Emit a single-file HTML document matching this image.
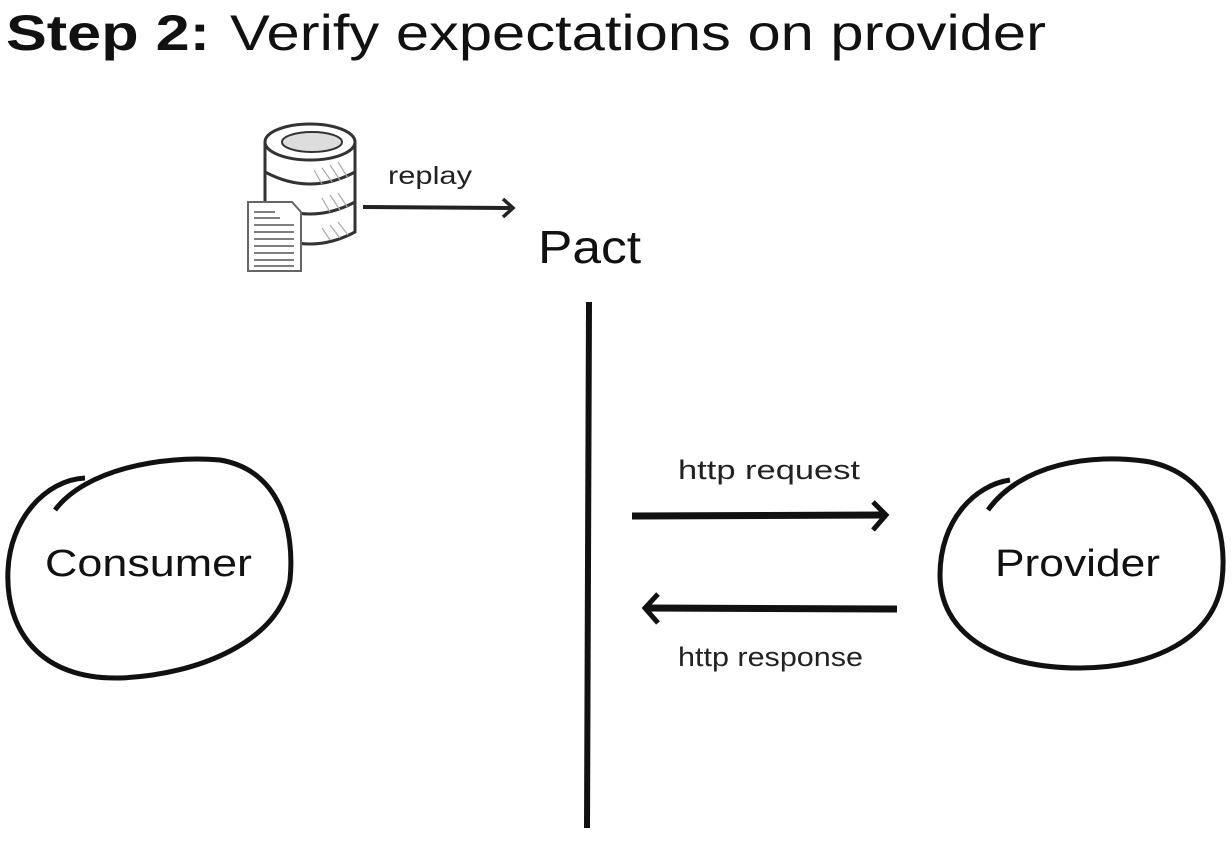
<!DOCTYPE html>
<html><head><style>
html,body{margin:0;padding:0;background:#fff;width:1232px;height:842px;overflow:hidden}
</style></head><body>
<svg width="1232" height="842" viewBox="0 0 1232 842" xmlns="http://www.w3.org/2000/svg" font-family="Liberation Sans, sans-serif">
<text x="6" y="50" font-size="50" fill="#111" font-weight="bold" textLength="204" lengthAdjust="spacingAndGlyphs">Step 2:</text>
<text x="230" y="50" font-size="50" fill="#111" textLength="816" lengthAdjust="spacingAndGlyphs">Verify expectations on provider</text>

<!-- database -->
<g stroke="#333" stroke-width="3" fill="#fff">
<path d="M265 142 L265 232 Q310 256 355 232 L355 142"/>
<path d="M265 172 Q310 196 355 172" fill="none"/>
<path d="M265 202 Q310 226 355 202" fill="none"/>
<ellipse cx="310" cy="142" rx="45" ry="18"/>
<ellipse cx="312" cy="142" rx="30" ry="10" fill="#ddd" stroke-width="2"/>
</g>
<g stroke="#aaa" stroke-width="1.2">
<path d="M330 165 L340 180 M338 162 L348 178 M322 168 L332 182 M314 170 L322 184 M330 195 L340 210 M338 193 L348 208 M322 198 L330 212 M330 225 L340 238 M338 222 L348 235 M322 228 L330 240"/>
</g>
<!-- doc -->
<path d="M248 202 L292 202 L301 212 L301 271 L248 271 Z" fill="#fff" stroke="#666" stroke-width="2"/>
<g stroke="#555" stroke-width="1.6">
<line x1="254" y1="212" x2="275" y2="212"/><line x1="254" y1="218" x2="280" y2="218"/>
<line x1="254" y1="225" x2="294" y2="225"/><line x1="254" y1="232" x2="294" y2="232"/>
<line x1="254" y1="239" x2="294" y2="239"/><line x1="254" y1="246" x2="294" y2="246"/>
<line x1="254" y1="253" x2="294" y2="253"/><line x1="254" y1="260" x2="294" y2="260"/>
<line x1="254" y1="266" x2="294" y2="266"/>
</g>
<!-- replay arrow -->
<text x="388" y="184" font-size="25" fill="#222" textLength="84" lengthAdjust="spacingAndGlyphs">replay</text>
<path d="M363 207 L510 208" stroke="#222" stroke-width="4" fill="none"/>
<path d="M503 199 L513 208 L503 217" stroke="#222" stroke-width="3.5" fill="none"/>
<text x="538" y="263" font-size="46" fill="#111" textLength="103" lengthAdjust="spacingAndGlyphs">Pact</text>

<!-- vertical line -->
<path d="M589 302 L587 828" stroke="#111" stroke-width="6"/>

<!-- consumer -->
<path d="M55 510 C85 470 160 455 220 460 C280 470 295 530 290 580 C280 640 200 675 120 678 C40 680 5 630 8 570 C10 520 45 480 85 478" fill="none" stroke="#111" stroke-width="5"/>
<text x="45" y="576" font-size="38" fill="#111" textLength="207" lengthAdjust="spacingAndGlyphs">Consumer</text>

<!-- provider -->
<path d="M988 510 C1020 465 1090 452 1150 462 C1210 475 1228 530 1222 580 C1215 640 1150 668 1080 668 C990 668 940 630 940 575 C940 520 975 485 1010 480" fill="none" stroke="#111" stroke-width="5"/>
<text x="995" y="576" font-size="38" fill="#111" textLength="165" lengthAdjust="spacingAndGlyphs">Provider</text>

<!-- request -->
<text x="678" y="479" font-size="27" fill="#222" textLength="182" lengthAdjust="spacingAndGlyphs">http request</text>
<path d="M632 516 L884 515" stroke="#111" stroke-width="7" fill="none"/>
<path d="M873 502 L886 515 L873 530" stroke="#111" stroke-width="5" fill="none"/>
<!-- response -->
<path d="M897 609 L648 608" stroke="#111" stroke-width="7" fill="none"/>
<path d="M658 594 L645 608 L658 623" stroke="#111" stroke-width="5" fill="none"/>
<text x="678" y="666" font-size="27" fill="#222" textLength="185" lengthAdjust="spacingAndGlyphs">http response</text>
</svg>
</body></html>
